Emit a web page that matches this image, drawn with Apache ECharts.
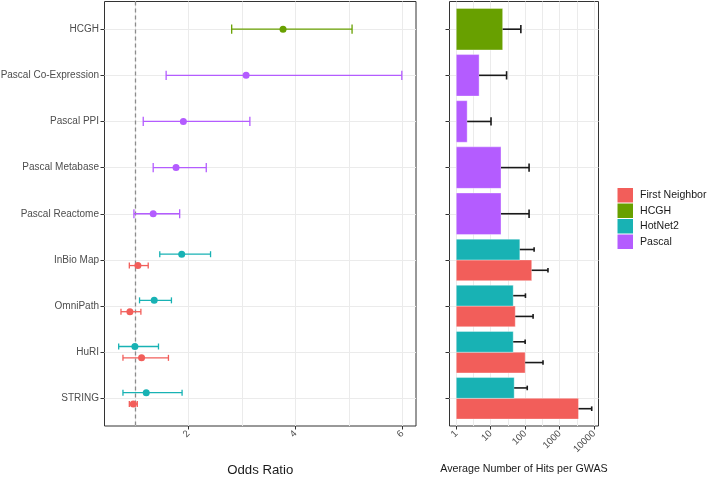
<!DOCTYPE html>
<html>
<head>
<meta charset="utf-8">
<script src="https://cdn.jsdelivr.net/npm/echarts@6/dist/echarts.min.js"></script>
<style>
  html, body { margin: 0; padding: 0; background: #fff; }
  #chart { width: 708px; height: 477px; }
</style>
</head>
<body>
<div id="chart"></div>
<script>
// ---------- Data ----------
const categories = ['HCGH', 'Pascal Co-Expression', 'Pascal PPI', 'Pascal Metabase', 'Pascal Reactome',
  'InBio Map', 'OmniPath', 'HuRI', 'STRING'];
const groups = ['First Neighbor', 'HCGH', 'HotNet2', 'Pascal'];
const groupColors = ['#F25E5A', '#68A000', '#18B2B4', '#B45CFF'];

// Odds ratio: [category, estimate, lower, upper]
const orFirstNeighbor = [
  ['InBio Map', 1.057, 0.897, 1.25],
  ['OmniPath', 0.908, 0.741, 1.113],
  ['HuRI', 1.126, 0.778, 1.628],
  ['STRING', 0.971, 0.897, 1.046]
];
const orHCGH = [
  ['HCGH', 3.77, 2.81, 5.06]
];
const orHotNet2 = [
  ['InBio Map', 1.876, 1.466, 2.415],
  ['OmniPath', 1.362, 1.088, 1.684],
  ['HuRI', 1.001, 0.698, 1.442],
  ['STRING', 1.213, 0.778, 1.883]
];
const orPascal = [
  ['Pascal Co-Expression', 3.08, 1.585, 5.99],
  ['Pascal PPI', 1.907, 1.157, 3.15],
  ['Pascal Metabase', 1.77, 1.343, 2.335],
  ['Pascal Reactome', 1.343, 0.983, 1.838]
];

// Average number of hits per GWAS: [category, mean, upper error]
const hitsFirstNeighbor = [
  ['InBio Map', 155, 460],
  ['OmniPath', 51.6, 170],
  ['HuRI', 100, 330],
  ['STRING', 3540, 8570]
];
const hitsHCGH = [
  ['HCGH', 22.2, 75]
];
const hitsHotNet2 = [
  ['InBio Map', 70, 182],
  ['OmniPath', 45, 102],
  ['HuRI', 45, 100],
  ['STRING', 48, 115]
];
const hitsPascal = [
  ['Pascal Co-Expression', 4.6, 28.9],
  ['Pascal PPI', 2.07, 10.2],
  ['Pascal Metabase', 19.9, 130],
  ['Pascal Reactome', 19.9, 130]
];

const oddsTicks = [2, 4, 6];
const hitsTicks = [1, 10, 100, 1000, 10000];
const referenceOR = 1;

// ---------- Build ----------
const orData = [orFirstNeighbor, orHCGH, orHotNet2, orPascal];
const hitsData = [hitsFirstNeighbor, hitsHCGH, hitsHotNet2, hitsPascal];
const dodgeSign = [1, 0, -1, 0];
const yIdx = name => categories.indexOf(name) + 1;
const catPositions = categories.map((c, i) => i + 1);

const textGray = '#4d4d4d';
const gridGray = '#ebebeb';
const borderGray = '#333333';
const font = 'Liberation Sans, Arial, sans-serif';

function renderErrLeft(params, api) {
  const lo = api.value(0), y = api.value(1), hi = api.value(2), c = api.value(3);
  const color = api.visual('color');
  const style = { stroke: color, lineWidth: 1.3 };
  const p1 = api.coord([lo, y]), p2 = api.coord([hi, y]);
  const a1 = api.coord([lo, y - c]), a2 = api.coord([lo, y + c]);
  const b1 = api.coord([hi, y - c]), b2 = api.coord([hi, y + c]);
  return {
    type: 'group',
    children: [
      { type: 'line', shape: { x1: p1[0], y1: p1[1], x2: p2[0], y2: p2[1] }, style },
      { type: 'line', shape: { x1: a1[0], y1: a1[1], x2: a2[0], y2: a2[1] }, style },
      { type: 'line', shape: { x1: b1[0], y1: b1[1], x2: b2[0], y2: b2[1] }, style }
    ]
  };
}

function renderBar(params, api) {
  const v = api.value(0), yc = api.value(1), half = api.value(2), hi = api.value(3), cap = api.value(4);
  const color = api.visual('color');
  const base = api.coord([1, yc - half]);
  const end = api.coord([v, yc + half]);
  const x0 = Math.min(base[0], end[0]);
  const y0 = Math.min(base[1], end[1]);
  const w = Math.abs(end[0] - base[0]);
  const h = Math.abs(end[1] - base[1]);
  const m = api.coord([v, yc]);
  const e = api.coord([hi, yc]);
  const c1 = api.coord([hi, yc - cap]);
  const c2 = api.coord([hi, yc + cap]);
  const es = { stroke: '#1a1a1a', lineWidth: 1.6 };
  return {
    type: 'group',
    children: [
      { type: 'rect', shape: { x: x0, y: y0, width: w, height: h }, style: { fill: color, stroke: 'rgba(255,255,255,0.35)', lineWidth: 1 } },
      { type: 'line', shape: { x1: m[0], y1: m[1], x2: e[0], y2: e[1] }, style: es },
      { type: 'line', shape: { x1: c1[0], y1: c1[1], x2: c2[0], y2: c2[1] }, style: es }
    ]
  };
}

const series = [];

// gridline carriers
series.push({
  type: 'line', xAxisIndex: 0, yAxisIndex: 0, data: [], z: 1, silent: true,
  markLine: {
    z: 1, silent: true, symbol: 'none', label: { show: false }, animation: false,
    lineStyle: { color: gridGray, type: 'solid', width: 1 },
    data: [1, 2, 3, 4, 5, 6].map(v => ({ xAxis: v })).concat(catPositions.map(v => ({ yAxis: v })))
  }
});
series.push({
  type: 'line', xAxisIndex: 0, yAxisIndex: 0, data: [], z: 1, silent: true,
  markLine: {
    z: 1.5, silent: true, symbol: 'none', label: { show: false }, animation: false,
    lineStyle: { color: '#8c8c8c', type: [4, 3], width: 1.3 },
    data: [{ xAxis: referenceOR }]
  }
});
series.push({
  type: 'line', xAxisIndex: 1, yAxisIndex: 1, data: [], z: 1, silent: true,
  markLine: {
    z: 1, silent: true, symbol: 'none', label: { show: false }, animation: false,
    lineStyle: { color: gridGray, type: 'solid', width: 1 },
    data: hitsTicks.map(v => ({ xAxis: v }))
      .concat([0.5, 1.5, 2.5, 3.5].map(p => ({ xAxis: Math.pow(10, p) })))
      .concat(catPositions.map(v => ({ yAxis: v })))
  }
});

groups.forEach((g, gi) => {
  const sgn = dodgeSign[gi];
  const color = groupColors[gi];
  // left: error bars
  series.push({
    name: g, type: 'custom', xAxisIndex: 0, yAxisIndex: 0, z: 3,
    itemStyle: { color },
    renderItem: renderErrLeft,
    encode: { x: [0, 2], y: 1 },
    data: orData[gi].map(r => [r[2], yIdx(r[0]) + sgn * 0.123, r[3], sgn ? 0.065 : 0.1])
  });
  // left: points
  series.push({
    name: g, type: 'scatter', xAxisIndex: 0, yAxisIndex: 0, z: 4,
    symbolSize: 7, itemStyle: { color, opacity: 1 },
    data: orData[gi].map(r => [r[1], yIdx(r[0]) + sgn * 0.123])
  });
  // right: bars + error bars
  series.push({
    name: g, type: 'custom', xAxisIndex: 1, yAxisIndex: 1, z: 3,
    itemStyle: { color },
    renderItem: renderBar,
    encode: { x: [0, 3], y: 1 },
    data: hitsData[gi].map(r => [r[1], yIdx(r[0]) + sgn * 0.225, sgn ? 0.225 : 0.45, r[2], sgn ? 0.05 : 0.09])
  });
});

const option = {
  animation: false,
  backgroundColor: '#ffffff',
  textStyle: { fontFamily: font },
  legend: {
    data: groups.map(name => ({ name, icon: 'rect' })),
    orient: 'vertical',
    left: 617.5, top: 188,
    itemWidth: 15.5, itemHeight: 14.5, itemGap: 1,
    padding: 0,
    selectedMode: false,
    textStyle: { fontSize: 10.6, color: '#1a1a1a', fontFamily: font, padding: [0, 0, 0, 2] }
  },
  grid: [
    { left: 104.5, top: 1.5, width: 311.5, height: 424.5, show: true, borderColor: borderGray, borderWidth: 1,
      backgroundColor: '#fff', containLabel: false, outerBoundsMode: 'none' },
    { left: 449.5, top: 1.5, width: 149, height: 424.5, show: true, borderColor: borderGray, borderWidth: 1,
      backgroundColor: '#fff', containLabel: false, outerBoundsMode: 'none' }
  ],
  xAxis: [
    {
      type: 'value', gridIndex: 0, min: 0.433, max: 6.255,
      name: 'Odds Ratio', nameLocation: 'middle', nameGap: 38,
      nameTextStyle: { fontSize: 13.2, color: '#1a1a1a', fontFamily: font },
      axisLine: { show: false },
      splitLine: { show: false },
      axisTick: { show: true, length: 3.5, customValues: oddsTicks, lineStyle: { color: borderGray } },
      axisLabel: { customValues: oddsTicks, rotate: 45, fontSize: 9.6, color: textGray, margin: 6, fontFamily: font }
    },
    {
      type: 'log', logBase: 10, gridIndex: 1, min: Math.pow(10, -0.197), max: Math.pow(10, 4.13),
      name: 'Average Number of Hits per GWAS', nameLocation: 'middle', nameGap: 38,
      nameTextStyle: { fontSize: 10.7, color: '#1a1a1a', fontFamily: font },
      axisLine: { show: false },
      splitLine: { show: false },
      minorSplitLine: { show: false },
      axisTick: { show: true, length: 3.5, customValues: hitsTicks, lineStyle: { color: borderGray } },
      axisLabel: { customValues: hitsTicks, rotate: 45, fontSize: 9.6, color: textGray, margin: 6, fontFamily: font,
        formatter: v => String(Math.round(v)) }
    }
  ],
  yAxis: [
    {
      type: 'value', gridIndex: 0, min: 0.4, max: 9.6, inverse: true,
      axisLine: { show: false },
      splitLine: { show: false },
      axisTick: { show: true, length: 4, customValues: catPositions, lineStyle: { color: borderGray } },
      axisLabel: { customValues: catPositions, fontSize: 10, color: textGray, margin: 5.5, fontFamily: font,
        formatter: v => categories[Math.round(v) - 1] }
    },
    {
      type: 'value', gridIndex: 1, min: 0.4, max: 9.6, inverse: true,
      axisLine: { show: false },
      splitLine: { show: false },
      axisTick: { show: true, length: 4, customValues: catPositions, lineStyle: { color: borderGray } },
      axisLabel: { show: false }
    }
  ],
  series
};

const chart = echarts.init(document.getElementById('chart'), null, { renderer: 'canvas' });
chart.setOption(option);
</script>
</body>
</html>
